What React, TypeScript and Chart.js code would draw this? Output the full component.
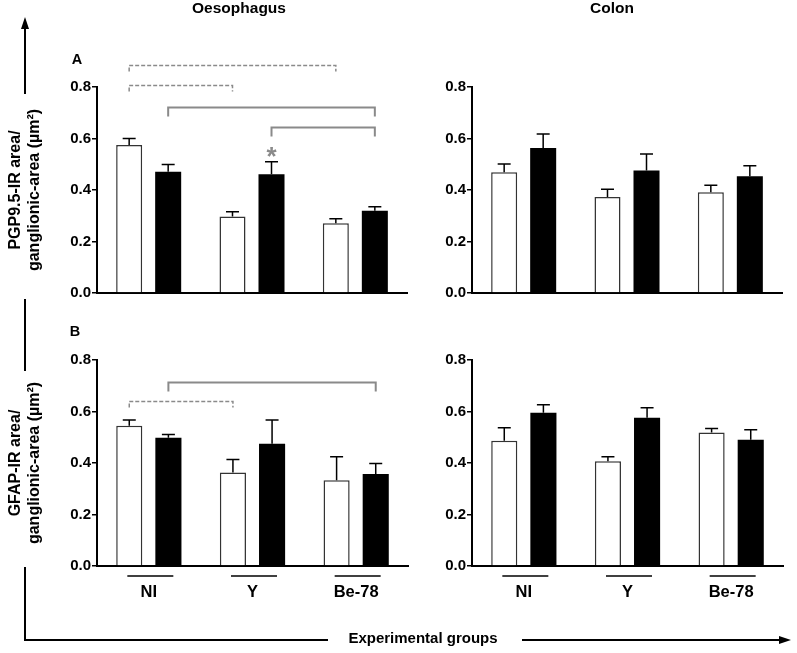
import React, { useEffect, useRef } from 'react';
import { Chart, registerables } from 'chart.js';

Chart.register(...registerables);

// ---------------- data ----------------
const categories = ['NI', 'Y', 'Be-78'];
const seriesNames = ['Group 1', 'Group 2'];
const yMin = 0;
const yMax = 0.8;
const yStep = 0.2;

// Oesophagus – PGP9.5 (A)
const oesoPgpWhite = [0.575, 0.297, 0.271];
const oesoPgpWhiteErr = [0.025, 0.019, 0.017];
const oesoPgpBlack = [0.471, 0.461, 0.319];
const oesoPgpBlackErr = [0.028, 0.049, 0.016];
// Colon – PGP9.5 (A)
const colonPgpWhite = [0.469, 0.373, 0.391];
const colonPgpWhiteErr = [0.032, 0.030, 0.027];
const colonPgpBlack = [0.563, 0.476, 0.453];
const colonPgpBlackErr = [0.054, 0.064, 0.041];
// Oesophagus – GFAP (B)
const oesoGfapWhite = [0.545, 0.363, 0.333];
const oesoGfapWhiteErr = [0.022, 0.051, 0.091];
const oesoGfapBlack = [0.498, 0.475, 0.357];
const oesoGfapBlackErr = [0.013, 0.092, 0.041];
// Colon – GFAP (B)
const colonGfapWhite = [0.486, 0.407, 0.518];
const colonGfapWhiteErr = [0.051, 0.017, 0.016];
const colonGfapBlack = [0.595, 0.576, 0.490];
const colonGfapBlackErr = [0.031, 0.039, 0.039];

// significance brackets: [category, series] -> [category, series] at level
const oesoPgpBracketFrom = [[0, 0], [0, 0], [0, 1], [1, 1]];
const oesoPgpBracketTo = [[2, 0], [1, 0], [2, 1], [2, 1]];
const oesoPgpBracketLevel = [0.884, 0.806, 0.722, 0.646];
const oesoPgpBracketDashed = [true, true, false, false];
const oesoGfapBracketFrom = [[0, 1], [0, 0]];
const oesoGfapBracketTo = [[2, 1], [1, 0]];
const oesoGfapBracketLevel = [0.716, 0.641];
const oesoGfapBracketDashed = [false, true];
// asterisk: category, series, level
const oesoPgpStar = { cat: 1, series: 1, level: 0.555 };

const yTitlePgp = ['PGP9.5-IR area/', 'ganglionic-area (µm²)'];
const yTitleGfap = ['GFAP-IR area/', 'ganglionic-area (µm²)'];

// ---------------- layout ----------------
const W = 797;
const H = 653;
const FONT = '"Liberation Sans", Arial, sans-serif';

type Panel = {
  area: { left: number; top: number; right: number; bottom: number };
  white: number[]; whiteErr: number[]; black: number[]; blackErr: number[];
  bFrom?: number[][]; bTo?: number[][]; bLevel?: number[]; bDashed?: boolean[];
  star?: { cat: number; series: number; level: number };
  yTitle?: string[];
  showX: boolean;
};

const panels: Panel[] = [
  {
    area: { left: 97, top: 87, right: 407, bottom: 293 },
    white: oesoPgpWhite, whiteErr: oesoPgpWhiteErr, black: oesoPgpBlack, blackErr: oesoPgpBlackErr,
    bFrom: oesoPgpBracketFrom, bTo: oesoPgpBracketTo, bLevel: oesoPgpBracketLevel, bDashed: oesoPgpBracketDashed,
    star: oesoPgpStar, yTitle: yTitlePgp, showX: false,
  },
  {
    area: { left: 472, top: 87, right: 782, bottom: 293 },
    white: colonPgpWhite, whiteErr: colonPgpWhiteErr, black: colonPgpBlack, blackErr: colonPgpBlackErr,
    showX: false,
  },
  {
    area: { left: 97, top: 360, right: 408, bottom: 566 },
    white: oesoGfapWhite, whiteErr: oesoGfapWhiteErr, black: oesoGfapBlack, blackErr: oesoGfapBlackErr,
    bFrom: oesoGfapBracketFrom, bTo: oesoGfapBracketTo, bLevel: oesoGfapBracketLevel, bDashed: oesoGfapBracketDashed,
    yTitle: yTitleGfap, showX: true,
  },
  {
    area: { left: 472, top: 360, right: 783, bottom: 566 },
    white: colonGfapWhite, whiteErr: colonGfapWhiteErr, black: colonGfapBlack, blackErr: colonGfapBlackErr,
    showX: true,
  },
];

const figurePlugin = {
  id: 'figureDecor',
  afterDraw(chart: any) {
    const ctx = chart.ctx as CanvasRenderingContext2D;
    ctx.save();
    ctx.fillStyle = '#000';
    ctx.textAlign = 'center';
    ctx.textBaseline = 'middle';
    ctx.font = `bold 15.5px ${FONT}`;
    ctx.fillText('Oesophagus', 239, 9);
    ctx.fillText('Colon', 612, 9);
    ctx.font = `bold 14.5px ${FONT}`;
    ctx.fillText('A', 77, 60);
    ctx.fillText('B', 75, 332);
    ctx.font = `bold 15px ${FONT}`;
    ctx.fillText('Experimental groups', 423, 639);
    ctx.strokeStyle = '#000';
    ctx.lineWidth = 2;
    ctx.beginPath();
    ctx.moveTo(25, 26); ctx.lineTo(25, 94);
    ctx.moveTo(25, 299); ctx.lineTo(25, 371);
    ctx.moveTo(25, 567); ctx.lineTo(25, 640); ctx.lineTo(328, 640);
    ctx.moveTo(522, 640); ctx.lineTo(783, 640);
    ctx.stroke();
    ctx.beginPath();
    ctx.moveTo(25, 17); ctx.lineTo(21, 29); ctx.lineTo(29, 29); ctx.closePath(); ctx.fill();
    ctx.beginPath();
    ctx.moveTo(791, 640); ctx.lineTo(779, 636); ctx.lineTo(779, 644); ctx.closePath(); ctx.fill();
    ctx.restore();
  },
};

function makeChart(canvas: HTMLCanvasElement, p: Panel, withFigure: boolean) {
  const yW = p.yTitle ? p.area.left - 6 : 50;
  const xH = p.showX ? 40 : 10;
  const padding = {
    left: p.area.left - yW,
    top: p.area.top,
    right: W - p.area.right,
    bottom: H - p.area.bottom - xH,
  };

  const panelPlugin = {
    id: 'panelDecor',
    afterDatasetsDraw(chart: any) {
      const ctx = chart.ctx as CanvasRenderingContext2D;
      const ys = chart.scales.y;
      const xs = chart.scales.x;
      ctx.save();
      // error bars (SEM, upward)
      const errs = [p.whiteErr, p.blackErr];
      ctx.strokeStyle = '#000';
      ctx.lineWidth = 1.5;
      errs.forEach((arr, di) => {
        const meta = chart.getDatasetMeta(di);
        const vals = chart.data.datasets[di].data as number[];
        meta.data.forEach((el: any, j: number) => {
          const x = el.x;
          const y0 = ys.getPixelForValue(vals[j]);
          const y1 = ys.getPixelForValue(vals[j] + arr[j]);
          ctx.beginPath();
          ctx.moveTo(x, y0); ctx.lineTo(x, y1);
          ctx.moveTo(x - 6.5, y1); ctx.lineTo(x + 6.5, y1);
          ctx.stroke();
        });
      });
      // brackets
      if (p.bFrom && p.bTo && p.bLevel && p.bDashed) {
        p.bFrom.forEach((from, k) => {
          const to = p.bTo![k];
          const xa = chart.getDatasetMeta(from[1]).data[from[0]].x;
          const xb = chart.getDatasetMeta(to[1]).data[to[0]].x;
          const y = Math.round(ys.getPixelForValue(p.bLevel![k])) + 0.5;
          const dashed = p.bDashed![k];
          const drop = dashed ? 6 : 9;
          ctx.setLineDash(dashed ? [4, 2] : []);
          ctx.strokeStyle = '#8a8a8a';
          ctx.lineWidth = dashed ? 1.5 : 2;
          ctx.beginPath();
          ctx.moveTo(xa, y + drop); ctx.lineTo(xa, y); ctx.lineTo(xb, y); ctx.lineTo(xb, y + drop);
          ctx.stroke();
        });
        ctx.setLineDash([]);
      }
      // asterisk
      if (p.star) {
        const sx = chart.getDatasetMeta(p.star.series).data[p.star.cat].x;
        const sy = ys.getPixelForValue(p.star.level);
        ctx.fillStyle = '#8a8a8a';
        ctx.font = `bold 26px ${FONT}`;
        ctx.textAlign = 'center';
        ctx.textBaseline = 'alphabetic';
        ctx.fillText('*', sx, sy + 15);
      }
      // category underlines
      if (p.showX) {
        ctx.strokeStyle = '#000';
        ctx.lineWidth = 1.5;
        categories.forEach((_, i) => {
          const cx = xs.getPixelForValue(i) + 1.5;
          const yy = p.area.bottom + 10;
          ctx.beginPath();
          ctx.moveTo(cx - 23, yy); ctx.lineTo(cx + 23, yy);
          ctx.stroke();
        });
      }
      ctx.restore();
    },
  };

  const plugins: any[] = [panelPlugin];
  if (withFigure) plugins.push(figurePlugin);

  return new Chart(canvas, {
    type: 'bar',
    data: {
      labels: categories,
      datasets: [
        {
          label: seriesNames[0], data: p.white,
          backgroundColor: '#ffffff', borderColor: '#333333', borderWidth: 1.5,
          categoryPercentage: 0.755, barPercentage: 0.667,
        },
        {
          label: seriesNames[1], data: p.black,
          backgroundColor: '#000000', borderColor: '#000000', borderWidth: 0,
          categoryPercentage: 0.755, barPercentage: 0.667,
        },
      ],
    },
    options: {
      responsive: false,
      devicePixelRatio: 1,
      animation: false,
      layout: { padding },
      plugins: { legend: { display: false }, tooltip: { enabled: false }, title: { display: false } },
      scales: {
        x: {
          type: 'category',
          grid: { display: false, drawTicks: false },
          border: { display: true, color: '#000', width: 2 },
          ticks: {
            display: p.showX,
            color: '#000',
            padding: 17,
            font: { family: FONT, size: 16.5, weight: 'bold' },
          },
          afterFit: (s: any) => { s.height = xH; },
        },
        y: {
          min: yMin,
          max: yMax,
          grid: { display: true, drawOnChartArea: false, drawTicks: true, tickLength: 5, color: '#000', lineWidth: 1.5 },
          border: { display: true, color: '#000', width: 2 },
          ticks: {
            stepSize: yStep,
            padding: 1,
            color: '#000',
            font: { family: FONT, size: 15, weight: 'bold' },
            callback: (v: any) => Number(v).toFixed(1),
          },
          title: p.yTitle
            ? {
                display: true,
                text: p.yTitle,
                color: '#000',
                padding: 0,
                font: { family: FONT, size: 16, weight: 'bold', lineHeight: 1.19 },
              }
            : { display: false },
          afterFit: (s: any) => { s.width = yW; },
        },
      },
    } as any,
    plugins,
  });
}

export default function App() {
  const refs = useRef<(HTMLCanvasElement | null)[]>([]);
  useEffect(() => {
    const charts = panels.map((p, i) => makeChart(refs.current[i]!, p, i === 0));
    return () => charts.forEach((c) => c.destroy());
  }, []);
  return (
    <div style={{ position: 'absolute', left: 0, top: 0, width: W, height: H, background: '#fff' }}>
      {panels.map((_, i) => (
        <canvas
          key={i}
          ref={(el) => { refs.current[i] = el; }}
          width={W}
          height={H}
          style={{ position: 'absolute', left: 0, top: 0, width: W, height: H }}
        />
      ))}
    </div>
  );
}
